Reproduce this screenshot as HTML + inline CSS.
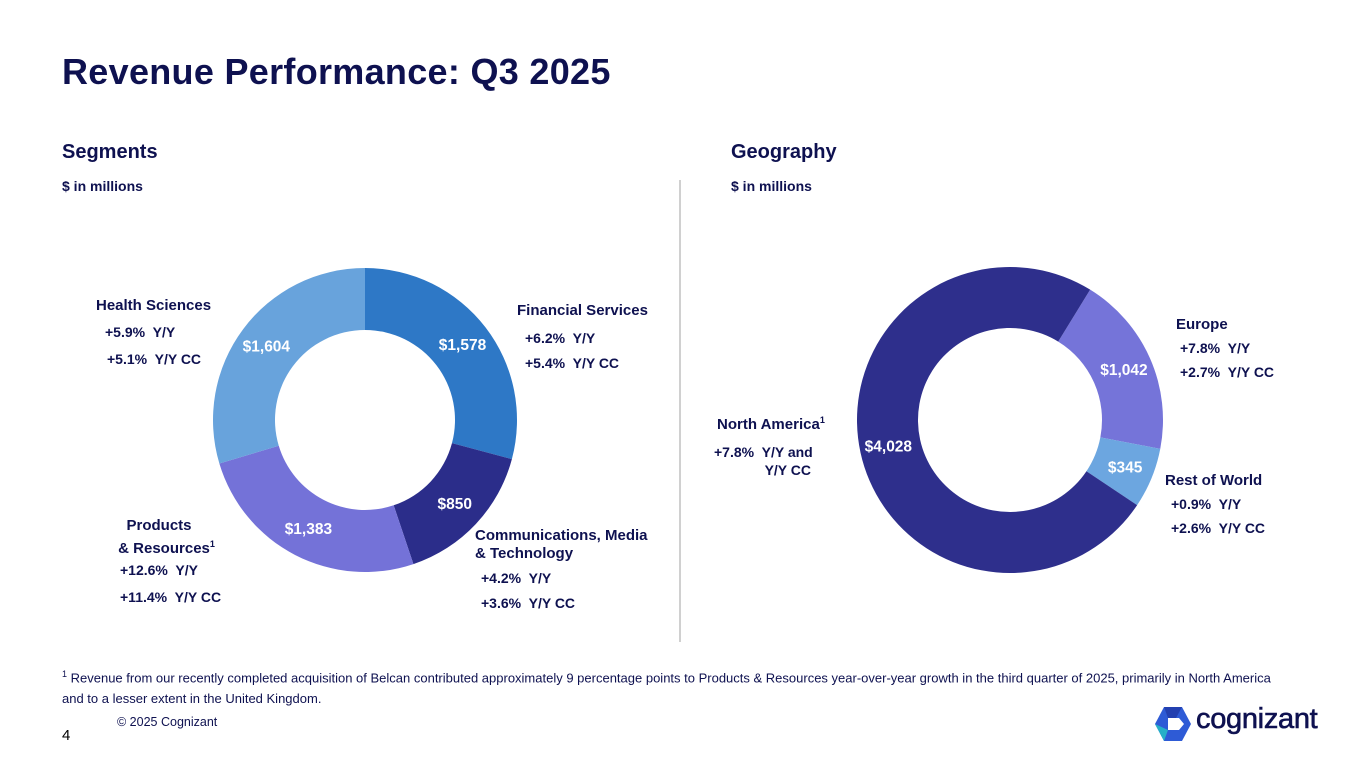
<!DOCTYPE html>
<html><head><meta charset="utf-8">
<style>
body{margin:0;width:1365px;height:768px;background:#fff;position:relative;overflow:hidden;font-family:"Liberation Sans",sans-serif;color:#0E1150}
.t{position:absolute;white-space:nowrap}
.h{font-weight:bold;font-size:15px}
.s{font-size:14px;font-weight:bold}
</style></head><body>
<div class="t" style="left:62px;top:51px;font-size:36px;font-weight:bold;letter-spacing:0.3px">Revenue Performance: Q3 2025</div>
<div class="t" style="left:62px;top:141px;font-size:20px;font-weight:bold">Segments</div>
<div class="t" style="left:62px;top:178px;font-size:14px;font-weight:bold">$ in millions</div>
<div class="t" style="left:731px;top:141px;font-size:20px;font-weight:bold">Geography</div>
<div class="t" style="left:731px;top:178px;font-size:14px;font-weight:bold">$ in millions</div>
<div style="position:absolute;left:679px;top:180px;width:2px;height:462px;background:#d0d0d0"></div>

<svg id="chart" width="1365" height="768" style="position:absolute;left:0;top:0"></svg>

<div class="t h" style="left:96px;top:297px">Health Sciences</div>
<div class="t s" style="left:105px;top:324px">+5.9%&nbsp; Y/Y</div>
<div class="t s" style="left:107px;top:351px">+5.1%&nbsp; Y/Y CC</div>
<div class="t h" style="left:517px;top:302px">Financial Services</div>
<div class="t s" style="left:525px;top:330px">+6.2%&nbsp; Y/Y</div>
<div class="t s" style="left:525px;top:355px">+5.4%&nbsp; Y/Y CC</div>
<div class="t h" style="left:114px;top:517px;line-height:18px">&nbsp;&nbsp;&nbsp;Products<br>&nbsp;&amp; Resources<sup style="font-size:9px">1</sup></div>
<div class="t s" style="left:120px;top:562px">+12.6%&nbsp; Y/Y</div>
<div class="t s" style="left:120px;top:589px">+11.4%&nbsp; Y/Y CC</div>
<div class="t h" style="left:475px;top:527px;line-height:18px">Communications, Media<br>&amp; Technology</div>
<div class="t s" style="left:481px;top:570px">+4.2%&nbsp; Y/Y</div>
<div class="t s" style="left:481px;top:595px">+3.6%&nbsp; Y/Y CC</div>

<div class="t h" style="left:1176px;top:316px">Europe</div>
<div class="t s" style="left:1180px;top:340px">+7.8%&nbsp; Y/Y</div>
<div class="t s" style="left:1180px;top:364px">+2.7%&nbsp; Y/Y CC</div>
<div class="t h" style="left:717px;top:415px">North America<sup style="font-size:9px">1</sup></div>
<div class="t s" style="left:714px;top:443px;line-height:18px">+7.8%&nbsp; Y/Y and<br>&nbsp;&nbsp;&nbsp;&nbsp;&nbsp;&nbsp;&nbsp;&nbsp;&nbsp;&nbsp;&nbsp;&nbsp;&nbsp;Y/Y CC</div>
<div class="t h" style="left:1165px;top:472px">Rest of World</div>
<div class="t s" style="left:1171px;top:496px">+0.9%&nbsp; Y/Y</div>
<div class="t s" style="left:1171px;top:520px">+2.6%&nbsp; Y/Y CC</div>

<div class="t" style="left:62px;top:664px;font-size:13px;line-height:21px;white-space:normal;width:1225px"><sup style="font-size:9px">1</sup> Revenue from our recently completed acquisition of Belcan contributed approximately 9 percentage points to Products &amp; Resources year-over-year growth in the third quarter of 2025, primarily in North America and to a lesser extent in the United Kingdom.</div>
<div class="t" style="left:117px;top:715px;font-size:12.5px">© 2025 Cognizant</div>
<div class="t" style="left:62px;top:727px;font-size:15px;color:#000">4</div>
<svg width="38" height="36" style="position:absolute;left:1154px;top:706px" viewBox="0 0 38 36"><polygon points="10,1 28,1 37,18 28,35 10,35 1,18" fill="#2E5BD6"/><polygon points="10,1 28,1 22,12 14,12" fill="#2340B0"/><polygon points="14,12 25,12 30,18 25,24 14,24" fill="#fff"/><polygon points="1,18 10,35 14,24" fill="#26B0C8"/></svg>
<div class="t" style="left:1196px;top:703px;font-size:29px;color:#0E1150;letter-spacing:-0.3px;-webkit-text-stroke:0.6px #0E1150">cognizant</div>

<script>
const segNames=["Financial Services","Communications, Media & Technology","Products & Resources","Health Sciences"];
const segValues=[1578,850,1383,1604];
const segLabels=["$1,578","$850","$1,383","$1,604"];
const segColors=["#2E78C6","#2B2D8A","#7472D8","#68A3DC"];
const geoNames=["Europe","Rest of World","North America"];
const geoValues=[1042,345,4028];
const geoLabels=["$1,042","$345","$4,028"];
const geoColors=["#7574D9","#6CA6E0","#2E2F8C"];
const svg=document.getElementById('chart');
const NS="http://www.w3.org/2000/svg";
function pt(cx,cy,r,a){const t=a*Math.PI/180;return [cx+r*Math.sin(t),cy-r*Math.cos(t)];}
function donut(names,vals,labels,colors,cx,cy,ro,ri,start,key){
  const tot=vals.reduce((a,b)=>a+b,0);let a0=start;
  vals.forEach((v,i)=>{
    const span=v/tot*360,a1=a0+span,lg=span>180?1:0;
    const p1=pt(cx,cy,ro,a0),p2=pt(cx,cy,ro,a1),p3=pt(cx,cy,ri,a1),p4=pt(cx,cy,ri,a0);
    const p=document.createElementNS(NS,'path');
    p.setAttribute('d',`M${p1}A${ro},${ro} 0 ${lg} 1 ${p2}L${p3}A${ri},${ri} 0 ${lg} 0 ${p4}Z`);
    p.setAttribute('fill',colors[i]);
    
    
    svg.appendChild(p);
    const m=pt(cx,cy,(ro+ri)/2+2,a0+span/2);
    const t=document.createElementNS(NS,'text');
    t.setAttribute('x',m[0]);t.setAttribute('y',m[1]+5);
    t.setAttribute('text-anchor','middle');t.setAttribute('fill','#fff');
    t.setAttribute('font-size','15.5');t.setAttribute('font-weight','bold');
    t.setAttribute('font-family','Liberation Sans, sans-serif');
    t.textContent=labels[i];
    
    
    svg.appendChild(t);
    a0=a1;
  });
}
donut(segNames,segValues,segLabels,segColors,365,420,152,90,0,'segment');
donut(geoNames,geoValues,geoLabels,geoColors,1010,420,153,92,31.6,'geo');
</script>
</body></html>
